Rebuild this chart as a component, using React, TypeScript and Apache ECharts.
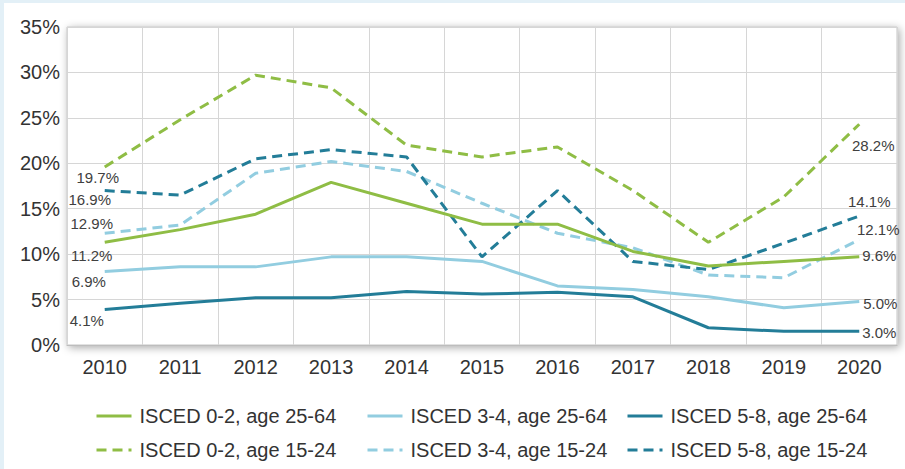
import React, { useEffect, useRef } from "react";
import * as echarts from "echarts";

const years = ["2010", "2011", "2012", "2013", "2014", "2015", "2016", "2017", "2018", "2019", "2020"];

const isced02Adult = [11.3, 12.7, 14.4, 17.9, 15.6, 13.3, 13.3, 10.3, 8.7, 9.2, 9.7];
const isced34Adult = [8.1, 8.6, 8.6, 9.7, 9.7, 9.2, 6.5, 6.1, 5.3, 4.1, 4.8];
const isced58Adult = [3.9, 4.6, 5.2, 5.2, 5.9, 5.6, 5.8, 5.3, 1.9, 1.5, 1.5];
const isced02Youth = [19.6, 24.8, 29.7, 28.3, 22.0, 20.7, 21.8, 17.0, 11.3, 16.3, 24.3];
const isced34Youth = [12.3, 13.2, 18.9, 20.2, 19.1, 15.6, 12.3, 10.7, 7.7, 7.4, 11.6];
const isced58Youth = [17.0, 16.5, 20.5, 21.5, 20.7, 9.7, 17.0, 9.2, 8.3, 11.2, 14.2];

const seriesNames = [
  "ISCED 0-2, age 25-64",
  "ISCED 3-4, age 25-64",
  "ISCED 5-8, age 25-64",
  "ISCED 0-2, age 15-24",
  "ISCED 3-4, age 15-24",
  "ISCED 5-8, age 15-24",
];

const startLabels = ["11.2%", "6.9%", "4.1%", "19.7%", "12.9%", "16.9%"];
const endLabels = ["9.6%", "5.0%", "3.0%", "28.2%", "12.1%", "14.1%"];

const yTicks = [0, 5, 10, 15, 20, 25, 30, 35];

const GREEN = "#8fbd45";
const LIGHT = "#92cde0";
const DARK = "#237d98";

export default function App() {
  const ref = useRef<HTMLDivElement>(null);
  useEffect(() => {
    document.body.style.margin = "0";
    const chart = echarts.init(ref.current!, null, { renderer: "svg" });
    const values = [isced02Adult, isced34Adult, isced58Adult, isced02Youth, isced34Youth, isced58Youth];
    const colors = [GREEN, LIGHT, DARK, GREEN, LIGHT, DARK];
    const dashed = [false, false, false, true, true, true];
    const startOffsets: [number, number][] = [
      [-13, 13], [-16, 10], [-18, 11], [-7, 11], [-13, -10], [-15, 9],
    ];
    const endOffsets: [number, number][] = [
      [20, -1], [21, 2], [20, 1], [14, 21], [19, -10], [10, -14],
    ];
    const labelStyle = { fontSize: 15, color: "#404040", fontFamily: "Liberation Sans, Arial, sans-serif" };
    const series = values.map((vals, s) => ({
      type: "line",
      name: seriesNames[s],
      symbol: "circle",
      symbolSize: 0,
      z: dashed[s] ? 3 : 4,
      lineStyle: {
        color: colors[s],
        width: 3,
        type: dashed[s] ? [10, 6] : "solid",
      },
      itemStyle: { color: colors[s] },
      data: vals.map((v, i) => {
        if (i === 0) {
          return {
            value: v,
            label: { show: true, position: "inside", formatter: startLabels[s], offset: startOffsets[s], ...labelStyle },
          };
        }
        if (i === vals.length - 1) {
          return {
            value: v,
            label: { show: true, position: "inside", formatter: endLabels[s], offset: endOffsets[s], ...labelStyle },
          };
        }
        return v;
      }),
    }));

    const legendPos = [
      { left: 95, top: 406 },
      { left: 366, top: 406 },
      { left: 626, top: 406 },
      { left: 95, top: 440 },
      { left: 366, top: 440 },
      { left: 626, top: 440 },
    ];

    chart.setOption({
      animation: false,
      backgroundColor: "#ffffff",
      textStyle: { fontFamily: "Liberation Sans, Arial, sans-serif" },
      graphic: [
        { type: "rect", left: 0, top: 0, shape: { width: 4, height: 469 }, style: { fill: "#e3f0f7" } },
        { type: "rect", left: 0, top: 0, shape: { width: 905, height: 3 }, style: { fill: "#e3f0f7" } },
      ],
      grid: {
        left: 67,
        right: 8,
        top: 27,
        bottom: 124,
        show: true,
        backgroundColor: "#ffffff",
        borderColor: "#c4c4c4",
        borderWidth: 1,
        shadowBlur: 8,
        shadowColor: "rgba(0,0,0,0.35)",
        shadowOffsetX: 2,
        shadowOffsetY: 2,
      },
      legend: seriesNames.map((n, i) => ({
        data: [n],
        left: legendPos[i].left,
        top: legendPos[i].top,
        itemWidth: 35,
        itemHeight: 20,
        padding: 0,
        itemStyle: { color: "rgba(0,0,0,0)", borderWidth: 0, opacity: 0 },
        lineStyle: { width: 3 },
        textStyle: { fontSize: 20, color: "#333333", fontFamily: "Liberation Sans, Arial, sans-serif", padding: [0, 0, 0, 3] },
        selectedMode: false,
      })),
      xAxis: {
        type: "category",
        data: years,
        boundaryGap: true,
        axisLine: { show: true, lineStyle: { color: "#bdbdbd" } },
        axisTick: { show: false },
        axisLabel: { fontSize: 20, color: "#333333", margin: 12 },
        splitLine: { show: true, lineStyle: { color: "#d6d6d6", width: 1 } },
      },
      yAxis: {
        type: "value",
        min: yTicks[0],
        max: yTicks[yTicks.length - 1],
        interval: 5,
        axisLine: { show: false },
        axisTick: { show: false },
        axisLabel: { fontSize: 20, color: "#333333", margin: 7, formatter: "{value}%" },
        splitLine: { show: true, lineStyle: { color: "#d6d6d6", width: 1 } },
      },
      series,
    });
    return () => chart.dispose();
  }, []);
  return (
    <div
      ref={ref}
      style={{ position: "absolute", left: 0, top: 0, width: 905, height: 469 }}
    />
  );
}
